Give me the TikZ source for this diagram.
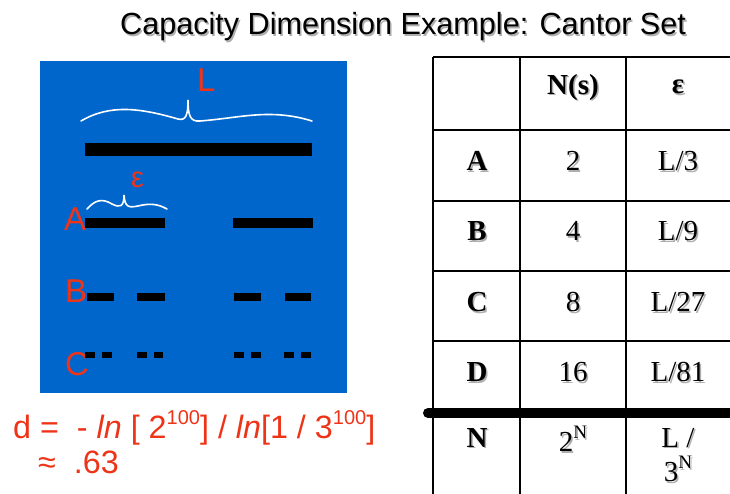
\documentclass[tikz,border=0pt]{standalone}
\usepackage{fontspec}
\setmainfont{Liberation Sans}
\newfontfamily\tabfont{Liberation Serif}
\definecolor{panelblue}{RGB}{0,102,204}
\definecolor{lblred}{RGB}{238,52,24}
\definecolor{shadowgray}{RGB}{175,175,175}
\newcommand{\shd}[1]{\rlap{\color{shadowgray}\hspace{1.5pt}\raisebox{-1.5pt}{#1}}#1}
\newcommand{\supx}[1]{\raisebox{0.42em}{\fontsize{20}{22}\selectfont #1}}
\begin{document}
\begin{tikzpicture}[x=1pt,y=-1pt,
  titletext/.style={anchor=base west,inner sep=0pt,font=\fontsize{30.6}{36}\selectfont},
  redlbl/.style={anchor=base west,inner sep=0pt,text=lblred,font=\fontsize{33}{38}\selectfont},
  fmla/.style={anchor=base west,inner sep=0pt,text=lblred,font=\fontsize{32.3}{36}\selectfont},
  bar/.style={fill=black,draw=none},
  bracew/.style={draw=white,line width=1.6pt,line cap=round},
  grid/.style={draw=black,line width=2.8pt},
  cell/.style={inner sep=0pt,font=\tabfont\fontsize{29}{32}\selectfont},
  celltop/.style={cell,anchor=north}
]
\clip (0,0) rectangle (730,494);
\useasboundingbox (0,0) rectangle (730,494);
\fill[white] (0,0) rectangle (730,494);

% title
\node[titletext] (title) at (120,35) {\shd{Capacity Dimension Example: Cantor Set}};

% blue panel
\fill[panelblue] (40,61) rectangle (347,393);

% L brace
\draw[bracew] (81,121) .. controls (110,104) and (140,108) .. (178,119)
  .. controls (186,121) and (188,115) .. (188,100)
  .. controls (188,115) and (190,122) .. (200,121)
  .. controls (240,118) and (270,108) .. (312,121);
\node[redlbl] (Llbl) at (197,92) {L};

% full bar
\fill[bar] (85,143) rectangle (312,156);

% epsilon brace
\draw[bracew] (87,209) .. controls (95,200) and (102,198) .. (112,204)
  .. controls (120,208) and (124,207) .. (124,195)
  .. controls (125,207) and (128,208) .. (138,206)
  .. controls (150,203) and (158,204) .. (167,209);
\node[anchor=base west,inner sep=0pt,text=lblred,font=\fontsize{29}{32}\selectfont] (eps) at (131,188) {ε};

% A
\node[redlbl] (Albl) at (64,230) {A};
\fill[bar] (85,218) rectangle (165,228);
\fill[bar] (233,218) rectangle (313,228);

% B
\node[redlbl] (Blbl) at (65,302) {B};
\foreach \a/\b in {87/114,137/165,234/261,285/311}
  \fill[bar] (\a,293) rectangle (\b,301);

% C
\node[redlbl] (Clbl) at (65,375) {C};
\foreach \a/\b in {85/95,102/112,137/147,154/163,234/244,251/261,284/294,301/311}
  \fill[bar] (\a,352) rectangle (\b,358);

% formula
\node[fmla] (f1) at (13,438) {d =\ \ - \textit{ln} [ 2\supx{100}] / \textit{ln}[1 / 3\supx{100}]};
\begin{scope}
\clip (0,0) rectangle (730,476);
\node[fmla] (f2) at (38,473) {≈\ \ .63};
\end{scope}

% table grid
\foreach \yy in {57,130,201,271,341}
  \draw[grid] (433,\yy) -- (735,\yy);
\foreach \xx in {433,520,626}
  \draw[grid] (\xx,57) -- (\xx,500);
\draw[black,line width=10pt,line cap=round] (428,413) -- (745,413);

% table text
\node[cell] (h2) at (573,88) {\shd{\bfseries N(s)}};
\node[cell] (h3) at (678,88) {\shd{\bfseries ε}};

\node[cell] (rA) at (477,162) {\shd{\bfseries A}};
\node[cell] (rB) at (477,232) {\shd{\bfseries B}};
\node[cell] (rC) at (477,303) {\shd{\bfseries C}};
\node[cell] (rD) at (477,373) {\shd{\bfseries D}};

\node[cell] (nA) at (573,162) {\shd{2}};
\node[cell] (nB) at (573,232) {\shd{4}};
\node[cell] (nC) at (573,303) {\shd{8}};
\node[cell] (nD) at (573,373) {\shd{16}};

\node[cell] (eA) at (678,162) {\shd{L/3}};
\node[cell] (eB) at (678,232) {\shd{L/9}};
\node[cell] (eC) at (678,303) {\shd{L/27}};
\node[cell] (eD) at (678,373) {\shd{L/81}};

\node[celltop] (rN) at (477,428) {\shd{\bfseries N}};
\node[celltop] (nN) at (573,426) {\shd{2\raisebox{0.45em}{\fontsize{19}{21}\selectfont N}}};
\node[celltop] (eN1) at (678,428) {\shd{L /}};
\node[celltop] (eN2) at (678,456) {\shd{3\raisebox{0.45em}{\fontsize{19}{21}\selectfont N}}};
\end{tikzpicture}
\end{document}
